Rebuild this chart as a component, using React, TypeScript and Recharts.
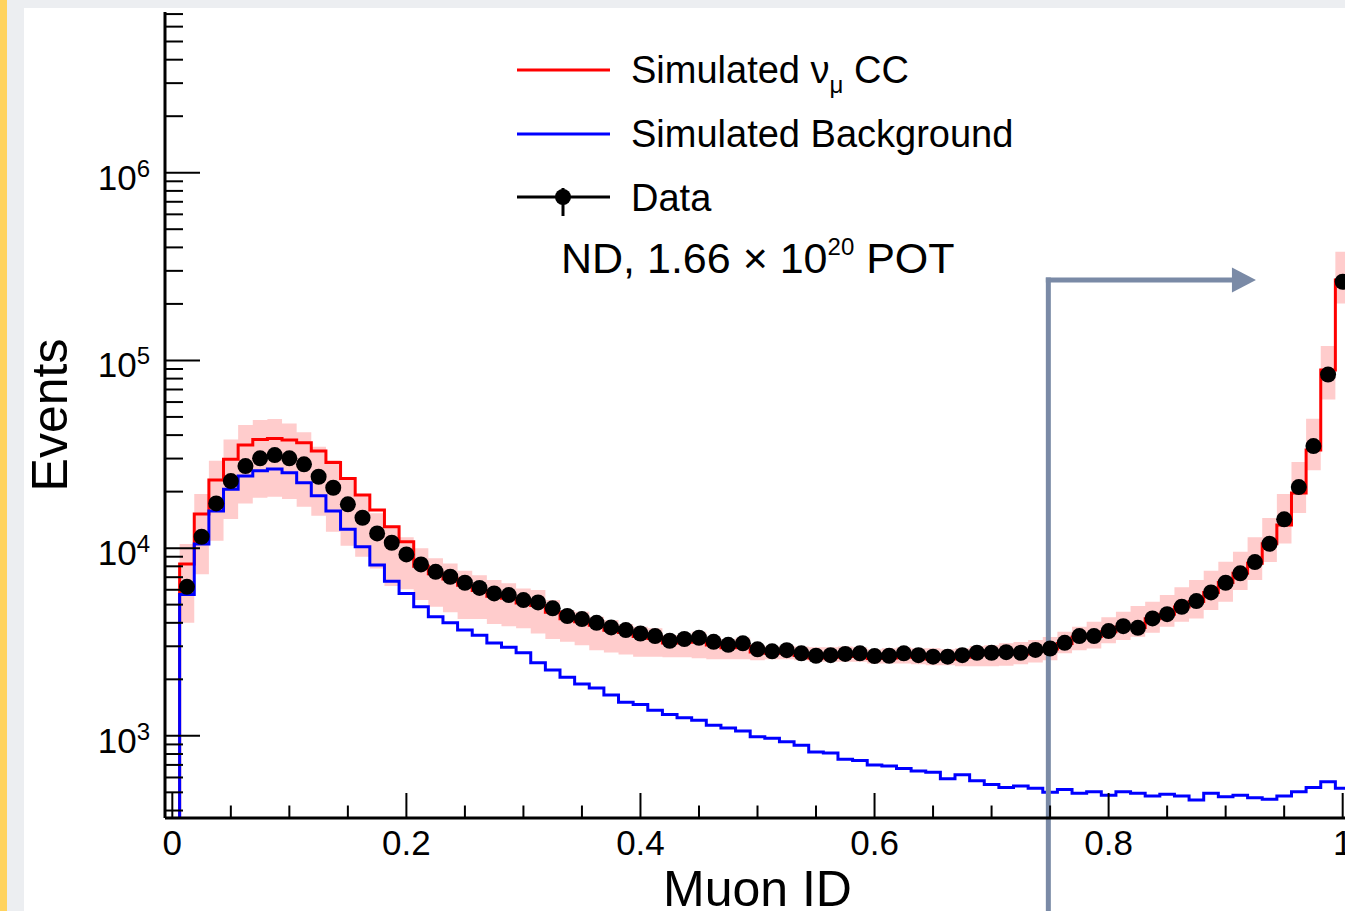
import React from "react";
import {
  ComposedChart,
  Line,
  Area,
  Scatter,
  XAxis,
  YAxis,
  Legend,
  ReferenceLine,
  ReferenceDot,
} from "recharts";

const FONT = '"Liberation Sans", Arial, Helvetica, sans-serif';

// bin k is centred on k * 0.0125, k = 0 .. 80
const binWidth = 0.0125;

const mcTotal = [
  100, 8220, 15190, 23040, 29710, 35400, 37960, 38420, 37630, 36400,
  32890, 28630, 23520, 19170, 15950, 12990, 10810, 8000, 7300, 6850,
  6350, 5950, 5550, 5400, 5100, 4950, 4550, 4200, 4050, 3880,
  3650, 3550, 3380, 3300, 3120, 3150, 3200, 3050, 2950, 3000,
  2800, 2750, 2780, 2680, 2600, 2620, 2650, 2670, 2580, 2600,
  2660, 2620, 2570, 2570, 2620, 2700, 2710, 2750, 2730, 2830,
  2900, 3100, 3350, 3380, 3590, 3800, 3780, 4200, 4440, 4850,
  5200, 5800, 6550, 7350, 8300, 10550, 13300, 19650, 33300, 88800,
  267900,
];

const background = [
  100, 5670, 10510, 15760, 20560, 24200, 25830, 26380, 25200, 22300,
  19010, 15760, 12590, 10170, 8120, 6670, 5740, 4870, 4310, 4000,
  3660, 3430, 3120, 2960, 2770, 2450, 2240, 2050, 1890, 1800,
  1650, 1510, 1470, 1370, 1300, 1250, 1210, 1140, 1100, 1060,
  990, 970, 930, 890, 820, 810, 750, 740, 700, 690,
  670, 650, 640, 590, 620, 576, 551, 530, 540, 525,
  500, 518, 494, 503, 483, 503, 494, 478, 489, 478,
  455, 494, 474, 483, 468, 460, 478, 503, 531, 569,
  525,
];

const dataCounts: (number | null)[] = [
  null, 6220, 11500, 17310, 22760, 27360, 30080, 31310, 30080, 27940,
  24000, 20970, 17110, 14510, 11980, 10680, 9260, 8190, 7480, 7040,
  6540, 6140, 5740, 5620, 5290, 5140, 4780, 4350, 4190, 4000,
  3780, 3660, 3510, 3400, 3210, 3280, 3330, 3170, 3055, 3110,
  2890, 2820, 2860, 2750, 2670, 2690, 2730, 2750, 2660, 2670,
  2750, 2690, 2640, 2640, 2690, 2770, 2770, 2790, 2770, 2870,
  2920, 3130, 3400, 3400, 3615, 3840, 3760, 4220, 4450, 4870,
  5220, 5810, 6540, 7340, 8430, 10550, 14230, 21150, 34980, 84050,
  262400,
];

const bandLow: (number | null)[] = [
  null, 4000, 7250, 10940, 14280, 17310, 18540, 18770, 18250, 16610,
  14870, 12220, 10290, 8990, 7800, 6280, 6030, 5290, 4870, 4550,
  4190, 4190, 3940, 3840, 3740, 3510, 3280, 3170, 3040, 2860,
  2780, 2715, 2640, 2640, 2620, 2620, 2590, 2560, 2560, 2560,
  2530, 2560, 2560, 2530, 2480, 2480, 2480, 2480, 2430, 2430,
  2430, 2410, 2380, 2380, 2350, 2350, 2350, 2360, 2410, 2460,
  2530, 2750, 2860, 2920, 3110, 3240, 3370, 3540, 3810, 4050,
  4220, 4680, 5180, 5980, 6760, 8430, 10600, 15370, 25960, 62000,
  201300,
];

const bandHigh: (number | null)[] = [
  null, 10510, 19410, 29210, 37960, 45240, 48110, 48700, 46190, 41370,
  34670, 29450, 23820, 19410, 15320, 13150, 11410, 9970, 8820, 8290,
  7570, 7180, 6760, 6490, 6100, 5980, 5290, 4680, 4580, 4310,
  4140, 3940, 3810, 3740, 3440, 3440, 3580, 3370, 3270, 3340,
  3040, 2990, 3040, 2990, 2960, 2960, 2990, 2960, 2890, 2925,
  2960, 2925, 2925, 2890, 2925, 3010, 3040, 3110, 3160, 3240,
  3360, 3580, 3810, 4050, 4280, 4580, 4910, 5180, 5620, 6180,
  6760, 7570, 8460, 9560, 11410, 14460, 19410, 28730, 48880, 119300,
  379200,
];

const xTicks = [
  0, 0.05, 0.1, 0.15, 0.2, 0.25, 0.3, 0.35, 0.4, 0.45, 0.5,
  0.55, 0.6, 0.65, 0.7, 0.75, 0.8, 0.85, 0.9, 0.95, 1,
];
const xMajor = [0, 0.2, 0.4, 0.6, 0.8, 1];
const xMajorText = ["0", "0.2", "0.4", "0.6", "0.8", "1"];

const yTicks = [
  400, 500, 600, 700, 800, 900,
  1e3, 2e3, 3e3, 4e3, 5e3, 6e3, 7e3, 8e3, 9e3,
  1e4, 2e4, 3e4, 4e4, 5e4, 6e4, 7e4, 8e4, 9e4,
  1e5, 2e5, 3e5, 4e5, 5e5, 6e5, 7e5, 8e5, 9e5,
  1e6, 2e6, 3e6, 4e6, 5e6, 6e6, 7e6,
];
const yMajor = [1e3, 1e4, 1e5, 1e6];
const yMajorExp = ["3", "4", "5", "6"];

const X_DOMAIN: [number, number] = [-0.00625, 1.00625];
const Y_DOMAIN: [number, number] = [365, 7.18e6];

// selection cut annotation (Muon ID > 0.75)
const cutX = 0.7485;
const arrowY = 268000;
const arrowEndX = 0.9054;

// histogram edges, each value holds until the next edge
const edges = mcTotal.map((mc, k) => ({
  x: (k - 0.5) * binWidth,
  mc,
  bkg: background[k],
  band: bandLow[k] == null ? null : [bandLow[k], bandHigh[k]],
}));
const lastBin = mcTotal.length - 1;
edges.push({
  x: (lastBin + 0.5) * binWidth,
  mc: mcTotal[lastBin],
  bkg: background[lastBin],
  band: [bandLow[lastBin], bandHigh[lastBin]],
});

const points = dataCounts
  .map((v, k) => ({ x: k * binWidth, y: v }))
  .filter((p) => p.y != null);

const majorIndexX = (v: number) => xMajor.findIndex((m) => Math.abs(m - v) < 1e-6);

function BottomTick({ x, y, payload }: any) {
  const i = majorIndexX(payload.value);
  return (
    <g>
      <line x1={x} x2={x} y1={y} y2={y - (i >= 0 ? 25 : 12.5)} stroke="#000" strokeWidth={2} />
      {i >= 0 && (
        <text x={x} y={y + 37} textAnchor="middle" fontSize={35} fontFamily={FONT} fill="#000">
          {xMajorText[i]}
        </text>
      )}
    </g>
  );
}

function TopTick({ x, y, payload }: any) {
  const i = majorIndexX(payload.value);
  return <line x1={x} x2={x} y1={y} y2={y + (i >= 0 ? 25 : 12.5)} stroke="#000" strokeWidth={2} />;
}

function LeftTick({ x, y, payload }: any) {
  const i = yMajor.indexOf(payload.value);
  return (
    <g>
      <line x1={x} x2={x + (i >= 0 ? 35 : 18)} y1={y} y2={y} stroke="#000" strokeWidth={2} />
      {i >= 0 && (
        <text x={x - 15} y={y + 17} textAnchor="end" fontSize={35} fontFamily={FONT} fill="#000">
          10
          <tspan dy={-13} fontSize={24}>
            {yMajorExp[i]}
          </tspan>
        </text>
      )}
    </g>
  );
}

function RightTick({ x, y, payload }: any) {
  const i = yMajor.indexOf(payload.value);
  return <line x1={x} x2={x - (i >= 0 ? 35 : 18)} y1={y} y2={y} stroke="#000" strokeWidth={2} />;
}

function XTitle({ viewBox }: any) {
  return (
    <text x={viewBox.x + viewBox.width / 2} y={viewBox.y + 88} textAnchor="middle" fontSize={50} fontFamily={FONT} fill="#000">
      Muon ID
    </text>
  );
}

function YTitle({ viewBox }: any) {
  const cx = 67;
  const cy = viewBox.y + viewBox.height / 2;
  return (
    <text x={cx} y={cy} transform={`rotate(-90, ${cx}, ${cy})`} textAnchor="middle" fontSize={50} fontFamily={FONT} fill="#000">
      Events
    </text>
  );
}

function RootLegend() {
  const fs = 38;
  return (
    <svg width={540} height={250} style={{ display: "block", overflow: "visible" }} fontFamily={FONT}>
      <line x1={17} x2={110} y1={30} y2={30} stroke="#ff0000" strokeWidth={3} />
      <text x={131} y={43} fontSize={fs} fill="#000">
        Simulated ν
        <tspan dy={10} fontSize={24}>μ</tspan>
        <tspan dy={-10}> CC</tspan>
      </text>
      <line x1={17} x2={110} y1={94} y2={94} stroke="#0000ff" strokeWidth={3} />
      <text x={131} y={107} fontSize={fs} fill="#000">
        Simulated Background
      </text>
      <line x1={17} x2={110} y1={157} y2={157} stroke="#000" strokeWidth={3} />
      <line x1={63} x2={63} y1={148} y2={176} stroke="#000" strokeWidth={3} />
      <circle cx={63} cy={157} r={8} fill="#000" />
      <text x={131} y={171} fontSize={fs} fill="#000">
        Data
      </text>
      <text x={61} y={233} fontSize={43} fill="#000">
        ND, 1.66 × 10
        <tspan dy={-18} fontSize={24}>20</tspan>
        <tspan dy={18}> POT</tspan>
      </text>
    </svg>
  );
}

function ArrowHead({ cx, cy }: any) {
  return <polygon points={`${cx},${cy - 12.5} ${cx + 24},${cy} ${cx},${cy + 12.5}`} fill="#7a8aa6" />;
}

export default function App() {
  return (
    <div
      style={{
        position: "fixed",
        left: 0,
        top: 0,
        width: 1345,
        height: 911,
        overflow: "hidden",
        background: "#eceef1",
        fontFamily: FONT,
      }}
    >
      <div style={{ position: "absolute", left: 0, top: 0, width: 7, height: 911, background: "#ffd35e" }} />
      <div style={{ position: "absolute", left: 24, top: 8, right: 0, bottom: 0, background: "#fff" }} />
      <div style={{ position: "absolute", left: 0, top: 0 }}>
        <ComposedChart width={1350} height={911} margin={{ top: 12, right: 0, bottom: 0, left: 0 }}>
          <XAxis
            dataKey="x"
            type="number"
            domain={X_DOMAIN}
            allowDataOverflow
            ticks={xTicks}
            interval={0}
            tick={BottomTick}
            tickLine={false}
            tickSize={0}
            tickMargin={0}
            axisLine={{ stroke: "#000", strokeWidth: 3 }}
            height={93}
            label={{ value: "Muon ID", content: XTitle }}
          />
          <XAxis
            xAxisId="top"
            orientation="top"
            type="number"
            domain={X_DOMAIN}
            allowDataOverflow
            ticks={xTicks}
            interval={0}
            tick={TopTick}
            tickLine={false}
            tickSize={0}
            tickMargin={0}
            axisLine={{ stroke: "#000", strokeWidth: 3 }}
            height={0}
          />
          <YAxis
            scale="log"
            type="number"
            domain={Y_DOMAIN}
            allowDataOverflow
            ticks={yTicks}
            interval={0}
            tick={LeftTick}
            tickLine={false}
            tickSize={0}
            tickMargin={0}
            axisLine={{ stroke: "#000", strokeWidth: 3 }}
            width={165}
            label={{ value: "Events", content: YTitle }}
          />
          <YAxis
            yAxisId="right"
            orientation="right"
            scale="log"
            type="number"
            domain={Y_DOMAIN}
            allowDataOverflow
            ticks={yTicks}
            interval={0}
            tick={RightTick}
            tickLine={false}
            tickSize={0}
            tickMargin={0}
            axisLine={{ stroke: "#000", strokeWidth: 3 }}
            width={0}
          />
          <Area
            data={edges}
            dataKey="band"
            type="stepAfter"
            stroke="none"
            fill="#ffcccc"
            fillOpacity={1}
            isAnimationActive={false}
            legendType="none"
          />
          <Line
            data={edges}
            dataKey="mc"
            name="Simulated νμ CC"
            type="stepAfter"
            stroke="#ff0000"
            strokeWidth={3}
            dot={false}
            isAnimationActive={false}
          />
          <Line
            data={edges}
            dataKey="bkg"
            name="Simulated Background"
            type="stepAfter"
            stroke="#0000ff"
            strokeWidth={3}
            dot={false}
            isAnimationActive={false}
          />
          <Scatter
            data={points}
            dataKey="y"
            name="Data"
            fill="#000"
            isAnimationActive={false}
            shape={(p: any) => <circle cx={p.cx} cy={p.cy} r={8} fill="#000" />}
          />
          <ReferenceLine
            segment={[
              { x: cutX, y: 100 },
              { x: cutX, y: arrowY },
            ]}
            stroke="#7a8aa6"
            strokeWidth={5}
            strokeLinecap="square"
            ifOverflow="visible"
          />
          <ReferenceLine
            segment={[
              { x: cutX, y: arrowY },
              { x: arrowEndX, y: arrowY },
            ]}
            stroke="#7a8aa6"
            strokeWidth={5}
            strokeLinecap="square"
            ifOverflow="visible"
          />
          <ReferenceDot x={arrowEndX} y={arrowY} shape={ArrowHead} ifOverflow="visible" />
          <Legend
            layout="vertical"
            align="center"
            verticalAlign="middle"
            content={RootLegend}
            wrapperStyle={{ left: 500, top: 40, width: 540, height: 250, margin: 0 }}
          />
        </ComposedChart>
      </div>
    </div>
  );
}
